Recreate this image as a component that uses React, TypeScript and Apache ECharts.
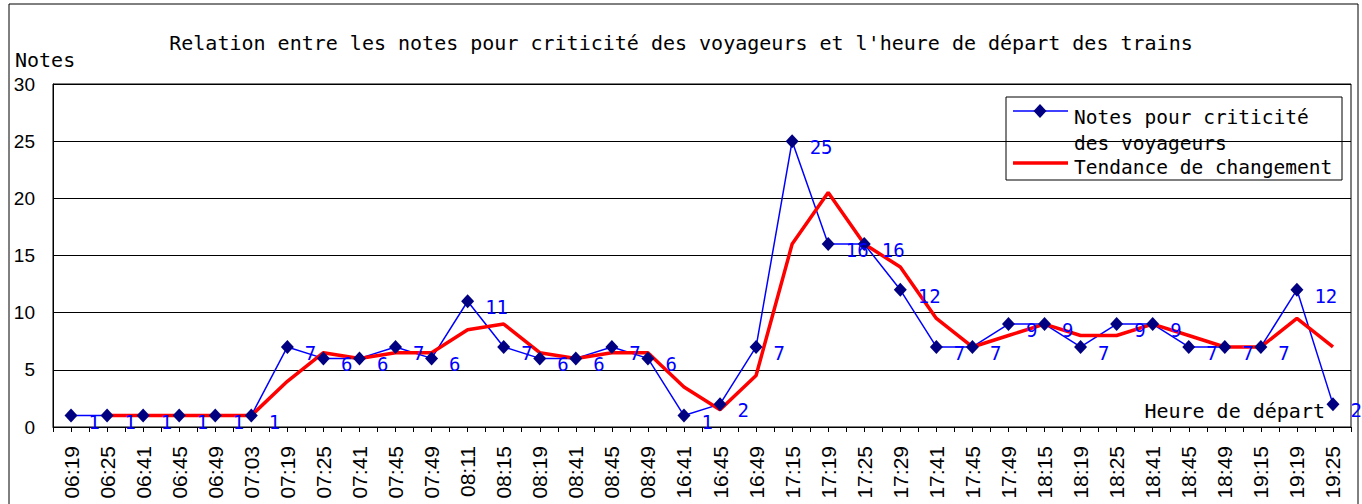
import React, { useEffect, useRef } from "react";
import * as echarts from "echarts";

const categories = [
  "06:19", "06:25", "06:41", "06:45", "06:49", "07:03", "07:19", "07:25", "07:41",
  "07:45", "07:49", "08:11", "08:15", "08:19", "08:41", "08:45", "08:49", "16:41",
  "16:45", "16:49", "17:15", "17:19", "17:25", "17:29", "17:41", "17:45", "17:49",
  "18:15", "18:19", "18:25", "18:41", "18:45", "18:49", "19:15", "19:19", "19:25",
];

const notes = [
  1, 1, 1, 1, 1, 1, 7, 6, 6, 7, 6, 11, 7, 6, 6, 7, 6, 1,
  2, 7, 25, 16, 16, 12, 7, 7, 9, 9, 7, 9, 9, 7, 7, 7, 12, 2,
];

const trend = [
  null, 1, 1, 1, 1, 1, 4, 6.5, 6, 6.5, 6.5, 8.5, 9, 6.5, 6, 6.5, 6.5, 3.5,
  1.5, 4.5, 16, 20.5, 16, 14, 9.5, 7, 8, 9, 8, 8, 9, 8, 7, 7, 9.5, 7,
];

const yTicks = { min: 0, max: 30, interval: 5 };

const titleText =
  "Relation entre les notes pour criticité des voyageurs et l'heure de départ des trains";
const seriesNames = ["Notes pour criticité des voyageurs", "Tendance de changement"];

const MONO = "'DejaVu Sans Mono', monospace";
const SANS = "'Liberation Sans', Arial, sans-serif";

export default function App() {
  const ref = useRef<HTMLDivElement>(null);

  useEffect(() => {
    if (!ref.current) return;
    const chart = echarts.init(ref.current, undefined, { renderer: "svg" });
    chart.setOption({
      animation: false,
      backgroundColor: "#ffffff",
      title: {
        text: titleText,
        left: "center",
        top: 28,
        textStyle: { fontFamily: MONO, fontSize: 20, fontWeight: "normal", color: "#000" },
      },
      legend: { show: false },
      grid: {
        left: 53,
        right: 11,
        top: 84,
        bottom: 77,
        show: true,
        borderColor: "#000",
        borderWidth: 1,
        backgroundColor: "transparent",
      },
      xAxis: [
        {
          type: "category",
          data: categories,
          boundaryGap: true,
          position: "bottom",
          axisLine: { lineStyle: { color: "#000", width: 1 } },
          axisTick: { show: true, length: 5, lineStyle: { color: "#000" } },
          axisLabel: {
            rotate: 90,
            interval: 0,
            margin: 19,
            fontSize: 21,
            color: "#000",
            fontFamily: SANS,
          },
          splitLine: { show: false },
        },
        {
          type: "category",
          data: categories,
          boundaryGap: true,
          position: "bottom",
          axisLine: { show: false },
          axisTick: {
            show: true,
            alignWithLabel: true,
            interval: 0,
            length: 5,
            lineStyle: { color: "#000" },
          },
          axisLabel: { show: false },
          splitLine: { show: false },
        },
      ],
      yAxis: {
        type: "value",
        min: yTicks.min,
        max: yTicks.max,
        interval: yTicks.interval,
        axisLine: { show: true, lineStyle: { color: "#000" } },
        axisTick: { show: false },
        axisLabel: {
          fontSize: 19,
          color: "#000",
          fontFamily: SANS,
          margin: 18,
          padding: [10, 0, 0, 0],
        },
        splitLine: { show: true, lineStyle: { color: "#000", width: 1 } },
      },
      series: [
        {
          name: seriesNames[0],
          type: "line",
          data: notes,
          symbol: "none",
          z: 2,
          lineStyle: { color: "#0000ff", width: 1.5 },
          itemStyle: { color: "#000080" },
        },
        {
          name: seriesNames[1],
          type: "line",
          data: trend,
          symbol: "none",
          z: 3,
          connectNulls: false,
          lineStyle: { color: "#ff0000", width: 3.5 },
          itemStyle: { color: "#ff0000" },
        },
        {
          name: seriesNames[0] + " ",
          type: "scatter",
          data: notes,
          symbol: "diamond",
          symbolSize: [13, 14],
          z: 4,
          itemStyle: { color: "#000080", opacity: 1 },
          label: {
            show: true,
            position: "right",
            distance: 11,
            offset: [0, 6],
            color: "#0000ff",
            opacity: 1,
            fontSize: 19,
            fontFamily: MONO,
          },
        },
      ],
      graphic: [
        {
          type: "rect",
          silent: true,
          z: -10,
          shape: { x: 9, y: 4, width: 1349, height: 520 },
          style: { fill: "none", stroke: "#000", lineWidth: 1 },
        },
        {
          type: "text",
          left: 15,
          top: 50,
          style: { text: "Notes", fontFamily: MONO, fontSize: 20, fill: "#000" },
        },
        {
          type: "text",
          x: 1325,
          y: 411,
          style: {
            text: "Heure de départ",
            fontFamily: MONO,
            fontSize: 20,
            fill: "#000",
            align: "right",
            verticalAlign: "middle",
          },
        },
        {
          type: "group",
          z: 50,
          children: [
            {
              type: "rect",
              shape: { x: 1006, y: 97, width: 336, height: 83 },
              style: { fill: "#fff", stroke: "#000", lineWidth: 1 },
            },
            {
              type: "line",
              shape: { x1: 1013, y1: 111, x2: 1068, y2: 111 },
              style: { stroke: "#0000ff", lineWidth: 1.5 },
            },
            {
              type: "polygon",
              shape: { points: [[1040, 104], [1046.5, 111], [1040, 118], [1033.5, 111]] },
              style: { fill: "#000080" },
            },
            {
              type: "text",
              x: 1074,
              y: 117,
              style: {
                text: "Notes pour criticité",
                fontFamily: MONO,
                fontSize: 19.5,
                fill: "#000",
                verticalAlign: "middle",
              },
            },
            {
              type: "text",
              x: 1074,
              y: 143,
              style: {
                text: "des voyageurs",
                fontFamily: MONO,
                fontSize: 19.5,
                fill: "#000",
                verticalAlign: "middle",
              },
            },
            {
              type: "line",
              shape: { x1: 1013, y1: 163, x2: 1068, y2: 163 },
              style: { stroke: "#ff0000", lineWidth: 3.5 },
            },
            {
              type: "text",
              x: 1074,
              y: 167,
              style: {
                text: "Tendance de changement",
                fontFamily: MONO,
                fontSize: 19.5,
                fill: "#000",
                verticalAlign: "middle",
              },
            },
          ],
        },
      ],
    });
    return () => chart.dispose();
  }, []);

  return (
    <div
      ref={ref}
      style={{ position: "absolute", left: 0, top: 0, width: 1362, height: 504 }}
    />
  );
}
